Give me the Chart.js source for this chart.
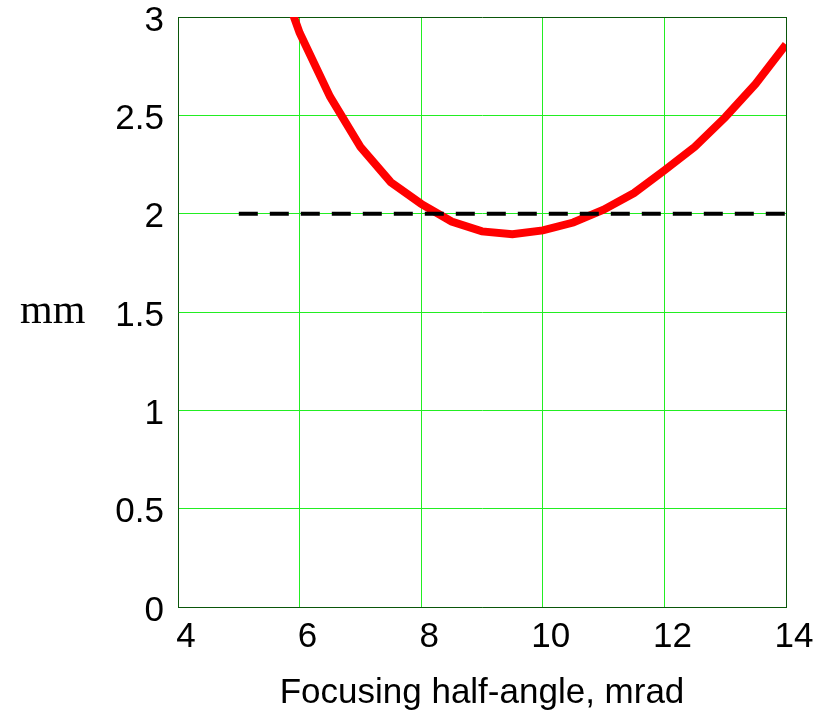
<!doctype html>
<html>

<head>
    <title>Focusing half-angle</title>
    <script src="https://cdn.jsdelivr.net/npm/chart.js"></script>
    <style>
        body { margin: 0; background: #fff; }
        #box { width: 821px; height: 716px; }
    </style>
</head>

<body>
    <div id="box"><canvas id="grafico"></canvas></div>

    <script>
        // valores
        var angulo = [5.5, 6, 6.5, 7, 7.5, 8, 8.5, 9, 9.5, 10, 10.5, 11, 11.5, 12, 12.5, 13, 13.5, 14];
        var tamanho = [3.35, 2.92, 2.595, 2.34, 2.16, 2.05, 1.96, 1.91, 1.895, 1.915, 1.955, 2.02, 2.105, 2.22, 2.34, 2.49, 2.66, 2.86];
        var limiteX = [5, 14];
        var limiteY = [2, 2];
        var ticksX = [4, 6, 8, 10, 12, 14];
        var ticksY = [0, 0.5, 1, 1.5, 2, 2.5, 3];

        var verde = '#22ee22';
        var borda = '#0a560a';

        // rotulo "mm" na horizontal
        var rotuloY = {
            id: 'rotuloY',
            afterDraw(chart) {
                var a = chart.chartArea, ctx = chart.ctx;
                ctx.save();
                ctx.fillStyle = '#000';
                ctx.font = '42px "Liberation Serif", "Times New Roman", serif';
                ctx.textAlign = 'left';
                ctx.textBaseline = 'middle';
                ctx.fillText('mm', 20, (a.top + a.bottom) / 2);
                ctx.restore();
            }
        };

        var fonte = { family: '"Liberation Sans", Arial, sans-serif', size: 35 };

        new Chart(document.getElementById('grafico').getContext('2d'), {
            type: 'line',
            data: {
                datasets: [{
                    label: 'curva',
                    data: angulo.map((x, i) => ({ x: x, y: tamanho[i] })),
                    borderColor: '#ff0000',
                    borderWidth: 8,
                    pointRadius: 0,
                    tension: 0,
                    order: 2
                }, {
                    label: 'limite',
                    data: limiteX.map((x, i) => ({ x: x, y: limiteY[i] })),
                    borderColor: '#000000',
                    borderWidth: 4,
                    borderDash: [19, 12],
                    pointRadius: 0,
                    order: 1
                }]
            },
            options: {
                responsive: true,
                maintainAspectRatio: false,
                animation: false,
                layout: { padding: { top: 17, right: 35, left: 0, bottom: 0 } },
                plugins: { legend: { display: false }, tooltip: { enabled: false } },
                scales: {
                    x: {
                        type: 'linear',
                        min: 4,
                        max: 14,
                        afterBuildTicks: (s) => { s.ticks = ticksX.map(v => ({ value: v })); },
                        afterFit: (s) => { s.height = 109; s.paddingLeft = 0; s.paddingRight = 0; },
                        grid: { color: (c) => c.tick && c.tick.value === 14 ? borda : verde, lineWidth: 1, drawTicks: false },
                        border: { color: borda, width: 1 },
                        ticks: { color: '#000', font: fonte, padding: 9, labelOffset: 8, maxRotation: 0 },
                        title: {
                            display: true,
                            text: 'Focusing half-angle, mrad',
                            color: '#000',
                            font: fonte,
                            padding: { top: 0, bottom: 2 }
                        }
                    },
                    y: {
                        min: 0,
                        max: 3,
                        afterBuildTicks: (s) => { s.ticks = ticksY.map(v => ({ value: v })); },
                        afterFit: (s) => { s.width = 178; s.paddingTop = 0; s.paddingBottom = 0; },
                        grid: { color: (c) => c.tick && c.tick.value === 3 ? borda : verde, lineWidth: 1, drawTicks: false },
                        border: { color: borda, width: 1 },
                        ticks: { color: '#000', font: fonte, padding: 14, labelOffset: 4, callback: (v) => String(v) }
                    }
                }
            },
            plugins: [rotuloY]
        });
    </script>
</body>

</html>
